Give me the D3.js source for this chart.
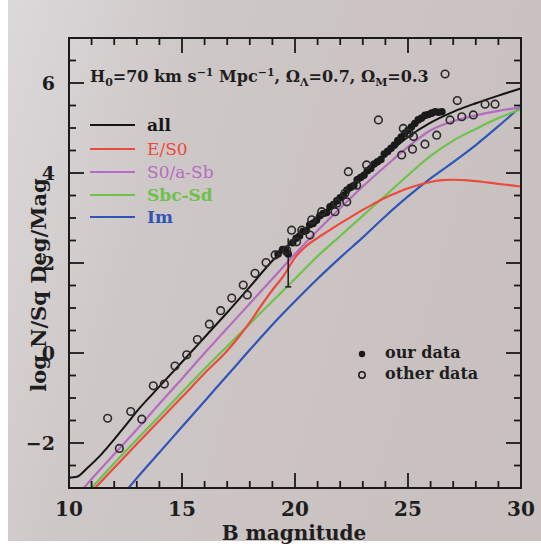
<!DOCTYPE html>
<html><head><meta charset="utf-8">
<script src="https://cdn.jsdelivr.net/npm/d3@7"></script>
<style>body{margin:0;background:#fff}svg{display:block}</style>
</head><body>
<svg id="c" width="541" height="546"></svg>
<script>
// ---- data ----
const xTickLabels = [10, 15, 20, 25, 30];
const yTickLabels = [-2, 0, 2, 4, 6];
const curveAll = [[10.0,-2.77],[10.35,-2.75],[10.8,-2.56],[11.4,-2.27],[12,-1.92],[12.55,-1.58],[13.15,-1.21],[13.75,-0.88],[14.3,-0.58],[15,-0.2],[16,0.35],[17,0.9],[18,1.47],[19,2.05],[20,2.52],[21,2.99],[22,3.45],[23,3.9],[24,4.38],[25,4.8],[26,5.12],[27,5.36],[28,5.55],[29,5.72],[30,5.88]];
const curveE = [[11.1,-3.03],[12,-2.55],[13,-2.02],[14,-1.5],[15,-0.98],[16,-0.45],[17,0.05],[17.5,0.35],[18,0.68],[18.5,1.05],[19,1.4],[19.5,1.72],[20,2.12],[20.5,2.38],[21,2.56],[21.5,2.72],[22,2.88],[22.5,3.03],[23,3.18],[23.5,3.32],[24,3.45],[24.5,3.56],[25,3.66],[25.5,3.74],[26,3.8],[26.5,3.84],[27,3.85],[27.5,3.84],[28,3.82],[28.5,3.79],[29,3.76],[29.5,3.73],[30,3.7]];
const curveS0 = [[10.6,-3.03],[11,-2.8],[12,-2.25],[13,-1.7],[14,-1.13],[15,-0.57],[16,0.0],[17,0.55],[18,1.1],[19,1.65],[20,2.2],[21,2.72],[22,3.22],[23,3.7],[24,4.15],[25,4.58],[26,4.95],[27,5.15],[28,5.28],[29,5.38],[30,5.46]];
const curveSbc = [[10.95,-3.03],[12,-2.45],[13,-1.92],[14,-1.4],[15,-0.87],[16,-0.35],[17,0.15],[18,0.65],[19,1.15],[20,1.65],[21,2.15],[22,2.6],[23,3.05],[24,3.5],[25,3.95],[26,4.38],[27,4.72],[28,4.98],[29,5.22],[30,5.42]];
const curveIm = [[12.6,-3.02],[13,-2.78],[14,-2.21],[15,-1.64],[16,-1.07],[17,-0.5],[18,0.07],[19,0.63],[20,1.15],[21,1.65],[22,2.12],[23,2.57],[24,3.04],[25,3.48],[26,3.88],[27,4.24],[28,4.62],[29,5.04],[30,5.48]];
const ourData = [[19.25,2.2],[19.45,2.3],[19.6,2.25],[19.7,2.2],[19.9,2.45],[20.05,2.55],[20.2,2.6],[20.35,2.7],[20.5,2.72],[20.65,2.85],[20.8,2.88],[20.95,2.95],[21.1,3.05],[21.25,3.1],[21.4,3.12],[21.55,3.25],[21.7,3.3],[21.85,3.38],[22.0,3.45],[22.15,3.5],[22.3,3.62],[22.45,3.68],[22.6,3.72],[22.75,3.85],[22.9,3.9],[23.05,3.95],[23.2,4.05],[23.35,4.1],[23.5,4.2],[23.65,4.25],[23.8,4.3],[23.95,4.42],[24.1,4.48],[24.25,4.55],[24.4,4.62],[24.55,4.72],[24.7,4.8],[24.85,4.88],[25.0,4.95],[25.15,5.02],[25.3,5.1],[25.45,5.18],[25.6,5.22],[25.75,5.28],[25.9,5.3],[26.05,5.33],[26.2,5.36],[26.35,5.35],[26.5,5.36]];
const errorBar = [19.7, 1.47, 2.55];
const otherData = [[11.71,-1.45],[12.23,-2.12],[12.73,-1.30],[13.22,-1.47],[13.73,-0.73],[14.22,-0.69],[14.69,-0.29],[15.21,-0.04],[15.68,0.30],[16.21,0.64],[16.71,0.94],[17.2,1.22],[17.71,1.51],[17.89,1.29],[18.23,1.77],[18.72,2.01],[19.12,2.18],[19.63,2.29],[19.85,2.73],[20.07,2.47],[20.3,2.73],[20.66,2.62],[20.74,2.96],[21.18,3.14],[21.77,3.14],[21.85,3.33],[22.21,3.55],[22.29,3.36],[22.36,4.03],[22.73,3.73],[23.17,4.18],[23.69,5.18],[24.72,4.4],[24.79,4.99],[25.06,4.88],[25.2,4.53],[25.24,4.81],[25.75,4.64],[26.27,4.84],[26.86,5.18],[27.38,5.25],[27.89,5.29],[27.18,5.61],[28.41,5.53],[28.85,5.53],[26.64,6.2]];
const seriesNames = ["all", "E/S0", "S0/a-Sb", "Sbc-Sd", "Im"];
const seriesColors = ["#151515", "#ec4a3c", "#b56cc0", "#6cc24a", "#2f55b8"];

// ---- layout ----
const svg = d3.select("#c");
const x = d3.scaleLinear().domain([10, 30]).range([69, 521]);
const y = d3.scaleLinear().domain([-3, 7]).range([488, 38]);
const FONT = "'DejaVu Serif', serif";

const defs = svg.append("defs");
const g = defs.append("linearGradient").attr("id", "bg").attr("x1", 0).attr("x2", 1).attr("y1", 0).attr("y2", 0.3);
g.append("stop").attr("offset", 0).attr("stop-color", "#dcd9da");
g.append("stop").attr("offset", 0.35).attr("stop-color", "#cec7c7");
g.append("stop").attr("offset", 1).attr("stop-color", "#c9c1c0");
defs.append("clipPath").attr("id", "clip").append("rect")
  .attr("x", x(10)).attr("y", y(7)).attr("width", x(30) - x(10)).attr("height", y(-3) - y(7));

svg.append("rect").attr("x", 8).attr("y", 0).attr("width", 533).attr("height", 541).attr("fill", "url(#bg)");

// curves
const line = d3.line().x(d => x(d[0])).y(d => y(d[1])).curve(d3.curveMonotoneX);
const curves = [curveAll, curveE, curveS0, curveSbc, curveIm];
const plot = svg.append("g").attr("clip-path", "url(#clip)");
[4, 3, 2, 1, 0].forEach(i => {
  plot.append("path").datum(curves[i]).attr("d", line).attr("fill", "none")
    .attr("stroke", seriesColors[i]).attr("stroke-width", i === 0 ? 2 : 2.2);
});

// error bar
plot.append("line").attr("x1", x(errorBar[0])).attr("x2", x(errorBar[0]))
  .attr("y1", y(errorBar[1])).attr("y2", y(errorBar[2])).attr("stroke", "#222").attr("stroke-width", 1.6);
plot.append("line").attr("x1", x(errorBar[0]) - 3).attr("x2", x(errorBar[0]) + 3)
  .attr("y1", y(errorBar[1])).attr("y2", y(errorBar[1])).attr("stroke", "#222").attr("stroke-width", 1.6);

// points
plot.selectAll("circle.our").data(ourData).join("circle").attr("class", "our")
  .attr("cx", d => x(d[0])).attr("cy", d => y(d[1])).attr("r", 3.8).attr("fill", "#1a1a1a");
plot.selectAll("circle.oth").data(otherData).join("circle").attr("class", "oth")
  .attr("cx", d => x(d[0])).attr("cy", d => y(d[1])).attr("r", 3.8).attr("fill", "none")
  .attr("stroke", "#2a2a2a").attr("stroke-width", 1.6);

// axes
const ax = svg.append("g").attr("stroke", "#1a1a1a");
ax.append("rect").attr("x", x(10)).attr("y", y(7)).attr("width", x(30) - x(10)).attr("height", y(-3) - y(7))
  .attr("fill", "none").attr("stroke-width", 2);
d3.range(10, 30.01, 1).forEach(v => {
  const big = v % 5 === 0; const L = big ? 15 : 7;
  ax.append("line").attr("x1", x(v)).attr("x2", x(v)).attr("y1", y(-3)).attr("y2", y(-3) - L).attr("stroke-width", 1.8);
  ax.append("line").attr("x1", x(v)).attr("x2", x(v)).attr("y1", y(7)).attr("y2", y(7) + L).attr("stroke-width", 1.8);
});
d3.range(-3, 7.01, 0.5).forEach(v => {
  const big = Math.abs(v % 2) === 0; const L = big ? 15 : 7;
  ax.append("line").attr("x1", x(10)).attr("x2", x(10) + L).attr("y1", y(v)).attr("y2", y(v)).attr("stroke-width", 1.8);
  ax.append("line").attr("x1", x(30)).attr("x2", x(30) - L).attr("y1", y(v)).attr("y2", y(v)).attr("stroke-width", 1.8);
});

const txt = svg.append("g").attr("font-family", FONT).attr("font-weight", "bold").attr("fill", "#1e1e1e");
xTickLabels.forEach(v => txt.append("text").attr("x", x(v)).attr("y", 516).attr("text-anchor", "middle")
  .attr("font-size", 20).text(v));
yTickLabels.forEach(v => txt.append("text").attr("x", 55).attr("y", y(v) + 7).attr("text-anchor", "end")
  .attr("font-size", 19).text(v < 0 ? "\u2212" + Math.abs(v) : v));
txt.append("text").attr("x", 294).attr("y", 540).attr("text-anchor", "middle").attr("font-size", 20).text("B magnitude");
txt.append("text").attr("transform", "translate(46,285) rotate(-90)").attr("text-anchor", "middle")
  .attr("font-size", 21).text("log N/Sq Deg/Mag");

// header
const h = txt.append("text").attr("x", 90).attr("y", 82).attr("font-size", 16);
h.append("tspan").text("H");
h.append("tspan").attr("dy", 4).attr("font-size", 11).text("0");
h.append("tspan").attr("dy", -4).text("=70 km s");
h.append("tspan").attr("dy", -6).attr("font-size", 11).text("\u22121");
h.append("tspan").attr("dy", 6).text(" Mpc");
h.append("tspan").attr("dy", -6).attr("font-size", 11).text("\u22121");
h.append("tspan").attr("dy", 6).text(", \u03A9");
h.append("tspan").attr("dy", 4).attr("font-size", 11).text("\u039B");
h.append("tspan").attr("dy", -4).text("=0.7, \u03A9");
h.append("tspan").attr("dy", 4).attr("font-size", 11).text("M");
h.append("tspan").attr("dy", -4).text("=0.3");

// legend lines
const legY = [125, 149, 172, 195, 217];
seriesNames.forEach((n, i) => {
  svg.append("line").attr("x1", 90).attr("x2", 135).attr("y1", legY[i]).attr("y2", legY[i])
    .attr("stroke", seriesColors[i]).attr("stroke-width", 2.2);
  svg.append("text").attr("x", 147).attr("y", legY[i] + 6).attr("font-family", FONT)
    .attr("font-size", 17).attr("font-weight", (i === 0 || i === 3 || i === 4) ? "bold" : "normal")
    .attr("fill", seriesColors[i]).text(n);
});

// symbol legend
svg.append("circle").attr("cx", 362).attr("cy", 354).attr("r", 3.2).attr("fill", "#1a1a1a");
svg.append("circle").attr("cx", 362).attr("cy", 375).attr("r", 3.2).attr("fill", "none").attr("stroke", "#1a1a1a").attr("stroke-width", 1.5);
txt.append("text").attr("x", 385).attr("y", 358).attr("font-size", 16).text("our data");
txt.append("text").attr("x", 385).attr("y", 379).attr("font-size", 16).text("other data");
</script>
</body></html>
